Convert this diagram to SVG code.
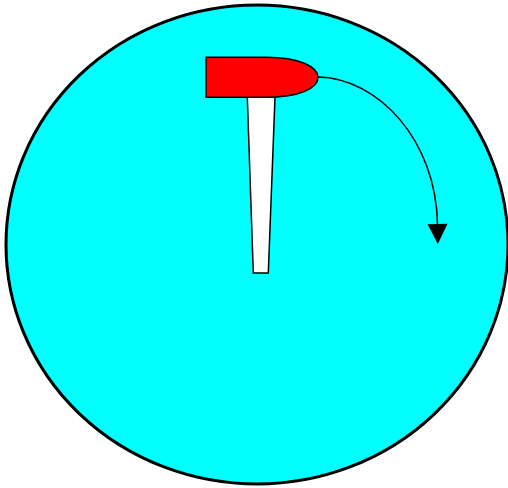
<svg xmlns="http://www.w3.org/2000/svg" width="508" height="488" viewBox="0 0 508 488">
<style>
.outline{stroke:#000;stroke-width:1.5}
.conn{fill:none;stroke:#000;stroke-width:1.5}
</style>
<defs>
<marker id="arr" markerUnits="userSpaceOnUse" markerWidth="22" markerHeight="22" refX="0" refY="10" orient="auto" viewBox="0 0 22 20" overflow="visible">
<path d="M0,0 L20,10 L0,20 Z" fill="#000"/>
</marker>
</defs>
<g id="dial">
<ellipse cx="257" cy="244.5" rx="251" ry="239.5" fill="#00ffff" stroke="#000" stroke-width="3"/>
</g>
<g id="stem">
<path class="outline" d="M247.3,97 L275,97 L268.3,273 L253.3,273 Z" fill="#fff"/>
</g>
<g id="head">
<path class="outline" d="M206,57.3 L266,57.3 C300,57.3 318,67 318,77.3 C318,88 300,97.3 266,97.3 L206,97.3 Z" fill="#ff0000"/>
</g>
<g id="connectors">
<path class="conn" d="M318,77 C378,78 436,140 437.5,224" marker-end="url(#arr)"/>
</g>
</svg>
